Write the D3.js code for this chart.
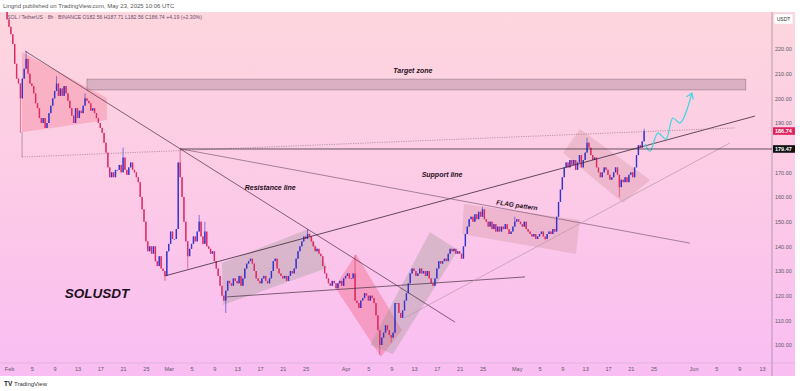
<!DOCTYPE html>
<html>
<head>
<meta charset="utf-8">
<script src="https://cdn.jsdelivr.net/npm/d3@7"></script>
<style>
  body { margin: 0; background: #fff; }
  svg { display: block; font-family: "Liberation Sans", Arial, sans-serif; }
</style>
</head>
<body>
<script>
var W = 800, H = 391;
var plot = {left: 0, right: 772, top: 12, bottom: 363};

// SOL/USDT 8h candles, first candle opens Jan 31 16:00 UTC
var firstCandle = "2025-01-31T16:00Z";
var firstOpen = 238;
var closes = [
  232,
  229,226,222, 214,208,206, 200,208,212, 216,210,206, 205,202,198, 196,192,190, 192,188,190,
  194,197,200, 203,206,201, 204,201,205, 202,199,196, 193,190,196, 192,195,194, 197,200,199,
  198,195,196, 194,192,190, 188,186,182, 178,172,168, 170,168,171, 171,173,170, 176,171,169,
  172,174,171, 170,168,166, 160,155,150, 142,138,140, 137,140,134, 132,136,131, 130,128,138,
  141,146,143, 143,147,174, 168,160,150, 142,136,139, 141,144,142, 146,150,144, 141,146,140,
  139,137,138, 134,131,128, 124,120,118, 122,126,125, 124,127,126, 125,128,124, 127,131,133,
  134,135,133, 130,127,126, 125,127,128, 126,125,127, 130,134,135, 131,129,128, 127,128,126,
  128,130,129, 131,135,138, 140,142,144, 143,145,144, 142,140,138, 139,137,136, 132,129,127,
  125,124,126, 125,123,125, 126,124,127, 128,129,127, 127,129,118, 117,115,118, 119,121,120,
  118,120,119, 117,112,106, 100,103,105, 108,106,104, 103,105,117, 117,113,111, 114,118,121,
  125,129,131, 130,128,129, 131,129,130, 128,130,127, 125,124,127, 131,134,133, 134,135,134,
  137,139,138, 139,137,138, 137,135,140, 145,148,151, 152,150,153, 151,154,152, 155,151,150,
  148,150,147, 149,146,148, 146,148,147, 149,147,145, 146,148,150, 151,150,149, 148,150,147,
  146,145,144, 145,143,144, 145,146,144, 143,145,146, 145,147,146, 152,158,163, 168,172,174,
  172,175,173, 175,171,174, 177,172,175, 178,182,180, 177,175,176, 172,170,168, 170,172,171,
  169,167,168, 170,172,169, 164,167,166, 168,166,169, 170,168,172, 177,181,180, 182.56,186.74
];
// visible wick tips
var wickHighs = [
  ["2025-02-04T00:00Z", 219], ["2025-02-09T08:00Z", 209], ["2025-02-14T08:00Z", 202],
  ["2025-02-21T00:00Z", 180], ["2025-03-03T00:00Z", 180], ["2025-03-06T08:00Z", 152.7],
  ["2025-03-07T08:00Z", 150], ["2025-03-25T08:00Z", 147], ["2025-04-02T16:00Z", 136.5],
  ["2025-04-25T00:00Z", 156], ["2025-04-30T16:00Z", 152], ["2025-05-13T08:00Z", 184],
  ["2025-05-23T08:00Z", 187.71]
];
var wickLows = [
  ["2025-02-03T00:00Z", 186], ["2025-02-28T08:00Z", 126], ["2025-03-04T08:00Z", 131],
  ["2025-03-11T00:00Z", 113], ["2025-04-07T00:00Z", 96], ["2025-04-09T00:00Z", 101],
  ["2025-05-06T00:00Z", 142.5], ["2025-05-19T00:00Z", 160]
];

var timeTicks = ["2025-02-01","2025-02-05","2025-02-09","2025-02-13","2025-02-17","2025-02-21","2025-02-25",
  "2025-03-01","2025-03-05","2025-03-09","2025-03-13","2025-03-17","2025-03-21","2025-03-25",
  "2025-04-01","2025-04-05","2025-04-09","2025-04-13","2025-04-17","2025-04-21","2025-04-25",
  "2025-05-01","2025-05-05","2025-05-09","2025-05-13","2025-05-17","2025-05-21","2025-05-25",
  "2025-06-01","2025-06-05","2025-06-09","2025-06-13"];
var monthNames = ["Jan","Feb","Mar","Apr","May","Jun"];
var priceTicks = [100, 110, 120, 130, 140, 150, 160, 170, 180, 190, 200, 210, 220];
var lastPrice = 186.74, levelPrice = 179.47;

// drawings: [time, price]
var resistanceLine = [["2025-02-03T19:00Z", 219.2], ["2025-04-20T04:00Z", 109.3]];
var supportLine = [["2025-02-28T08:00Z", 128.0], ["2025-06-11T18:00Z", 192.8]];
var fallingLine = [["2025-03-03T04:00Z", 179.47], ["2025-05-31T09:00Z", 141.3]];
var baseLine = [["2025-03-11T05:00Z", 119.5], ["2025-05-02T11:00Z", 127.6]];
var lowerTrend = [["2025-04-11T06:00Z", 110.9], ["2025-06-07T09:00Z", 181.9]];
var dottedLine = [["2025-02-03T07:00Z", 176.2], ["2025-06-08T06:00Z", 188.0]];
var dottedTick = [["2025-02-03T07:00Z", 186.3], ["2025-02-03T07:00Z", 176.2]];
var levelStart = "2025-03-03T00:00Z";

var febWedge = [["2025-02-03T07:00Z", 218.8], ["2025-02-18T04:00Z", 200.1], ["2025-02-18T04:00Z", 191.2], ["2025-02-03T07:00Z", 186.3]];
var marChannel = [["2025-03-10T08:00Z", 133.2], ["2025-03-25T10:00Z", 147.0], ["2025-03-28T18:00Z", 131.2], ["2025-03-10T12:00Z", 116.2]];
var aprDrop = [["2025-03-30T03:00Z", 123.5], ["2025-04-02T20:00Z", 136.9], ["2025-04-10T21:00Z", 106.1], ["2025-04-07T05:00Z", 95.1]];
var aprChannel = [["2025-04-05T07:00Z", 100.0], ["2025-04-15T19:00Z", 145.8], ["2025-04-20T17:00Z", 138.5], ["2025-04-09T07:00Z", 96.4]];
var flagBox = [["2025-04-21T18:00Z", 157.2], ["2025-05-12T02:00Z", 150.7], ["2025-05-11T09:00Z", 136.9], ["2025-04-21T10:00Z", 145.0]];
var mayBox = [["2025-05-12T02:00Z", 187.6], ["2025-05-24T09:00Z", 166.9], ["2025-05-19T15:00Z", 157.6], ["2025-05-09T03:00Z", 177.8]];
var targetZone = {from: "2025-02-14T16:00Z", to: "2025-06-10T04:00Z", low: 203.4, high: 207.8};
var projection = [["2025-05-23T12:00Z", 181.5], ["2025-05-24T09:00Z", 178.6], ["2025-05-25T18:00Z", 185.9],
  ["2025-05-27T04:00Z", 183.5], ["2025-05-28T09:00Z", 192.0], ["2025-05-29T15:00Z", 190.0], ["2025-05-31T17:00Z", 202.1]];

var labels = [
  {text: "Target zone", t: "2025-04-12T19:00Z", p: 211.1, size: 7, rot: 0},
  {text: "Resistance line", t: "2025-03-18T19:00Z", p: 164.0, size: 7, rot: 0},
  {text: "Support line", t: "2025-04-17T22:00Z", p: 169.3, size: 7, rot: 0},
  {text: "FLAG pattern", t: "2025-05-01T01:00Z", p: 156.7, size: 6.5, rot: 8},
  {text: "SOLUSDT", t: "2025-02-16T10:00Z", p: 121.0, size: 13.5, rot: 0}
];

var x = d3.scaleUtc()
    .domain([new Date("2025-02-01T00:00Z"), new Date("2025-06-13T00:00Z")])
    .range([9, 762]);
var y = d3.scaleLinear().domain([100, 220]).range([345, 49]);

var svg = d3.select("body").append("svg")
    .attr("width", W)
    .attr("height", H);

var defs = svg.append("defs");
var grad = defs.append("linearGradient").attr("id", "bg")
    .attr("x1", 0).attr("y1", 0).attr("x2", 0).attr("y2", 1);
grad.append("stop").attr("offset", "0%").attr("stop-color", "#fdd6de");
grad.append("stop").attr("offset", "55%").attr("stop-color", "#fcc9e8");
grad.append("stop").attr("offset", "100%").attr("stop-color", "#f9bdf3");
defs.append("clipPath").attr("id", "clip").append("rect")
    .attr("x", plot.left).attr("y", plot.top)
    .attr("width", plot.right - plot.left).attr("height", plot.bottom - plot.top);

// background panel
svg.append("rect")
    .attr("x", 0).attr("y", 12).attr("width", 795).attr("height", 364)
    .attr("fill", "url(#bg)");

// header
svg.append("text").attr("x", 3).attr("y", 8)
    .attr("font-size", 6).attr("fill", "#555")
    .text("Lingrid published on TradingView.com, May 23, 2025 10:06 UTC");
svg.append("text").attr("x", 7).attr("y", 19)
    .attr("font-size", 5.2).attr("fill", "#6b4a6a")
    .text("SOL / TetherUS · 8h · BINANCE   O182.56  H187.71  L182.56  C186.74  +4.19 (+2.30%)");

var g = svg.append("g").attr("clip-path", "url(#clip)");

function pt(d) { return [x(new Date(d[0])), y(d[1])]; }
var line = d3.line().x(function(d) { return pt(d)[0]; }).y(function(d) { return pt(d)[1]; });

// shaded patterns
var shapes = [
  {pts: febWedge, fill: "rgba(242,110,135,0.32)"},
  {pts: marChannel, fill: "rgba(150,150,140,0.33)"},
  {pts: aprDrop, fill: "rgba(240,80,110,0.33)"},
  {pts: aprChannel, fill: "rgba(150,150,140,0.33)"},
  {pts: flagBox, fill: "rgba(205,140,150,0.3)"},
  {pts: mayBox, fill: "rgba(205,140,150,0.3)"}
];
g.selectAll(".shape")
  .data(shapes)
  .enter().append("path")
    .attr("class", "shape")
    .attr("d", function(d) { return line(d.pts) + "Z"; })
    .style("fill", function(d) { return d.fill; });

// target zone
g.append("rect")
    .attr("x", x(new Date(targetZone.from)))
    .attr("y", y(targetZone.high))
    .attr("width", x(new Date(targetZone.to)) - x(new Date(targetZone.from)))
    .attr("height", y(targetZone.low) - y(targetZone.high))
    .style("fill", "rgba(175,135,155,0.45)")
    .style("stroke", "rgba(120,95,110,0.7)")
    .style("stroke-width", 0.6);

// candles
var t0 = new Date(firstCandle).getTime();
var hiMap = {}, loMap = {};
wickHighs.forEach(function(d) { hiMap[new Date(d[0]).getTime()] = d[1]; });
wickLows.forEach(function(d) { loMap[new Date(d[0]).getTime()] = d[1]; });
var candles = closes.map(function(c, i) {
  var t = t0 + i * 8 * 3600 * 1000;
  var o = i === 0 ? firstOpen : closes[i - 1];
  var h = Math.max(o, c), l = Math.min(o, c);
  if (hiMap[t] !== undefined) h = Math.max(h, hiMap[t]);
  if (loMap[t] !== undefined) l = Math.min(l, loMap[t]);
  return {t: new Date(t), o: o, h: h, l: l, c: c};
});
var upCol = "#3434cc", downCol = "#dc2a62";
var candle = g.selectAll(".candle")
  .data(candles)
  .enter().append("g")
    .attr("class", "candle");
candle.append("line")
    .attr("x1", function(d) { return x(d.t); })
    .attr("x2", function(d) { return x(d.t); })
    .attr("y1", function(d) { return y(d.h); })
    .attr("y2", function(d) { return y(d.l); })
    .style("stroke", function(d) { return d.c >= d.o ? upCol : downCol; })
    .style("stroke-width", 0.6);
candle.append("rect")
    .attr("x", function(d) { return x(d.t) - 0.7; })
    .attr("y", function(d) { return y(Math.max(d.o, d.c)); })
    .attr("width", 1.4)
    .attr("height", function(d) { return Math.max(0.7, Math.abs(y(d.o) - y(d.c))); })
    .style("fill", function(d) { return d.c >= d.o ? upCol : downCol; });

// trend lines
var trendLines = [
  {pts: resistanceLine, stroke: "#4a2e42", w: 0.7, dash: null},
  {pts: supportLine, stroke: "#3e2638", w: 0.8, dash: null},
  {pts: fallingLine, stroke: "#6b4c62", w: 0.6, dash: null},
  {pts: baseLine, stroke: "#4a2e42", w: 0.7, dash: null},
  {pts: lowerTrend, stroke: "#b898aa", w: 0.7, dash: null},
  {pts: dottedLine, stroke: "#8c6c80", w: 0.6, dash: "1.2,1.2"},
  {pts: dottedTick, stroke: "#8c6c80", w: 0.6, dash: null}
];
g.selectAll(".trend")
  .data(trendLines)
  .enter().append("path")
    .attr("class", "trend")
    .attr("d", function(d) { return line(d.pts); })
    .style("fill", "none")
    .style("stroke", function(d) { return d.stroke; })
    .style("stroke-width", function(d) { return d.w; })
    .style("stroke-dasharray", function(d) { return d.dash; });

// horizontal level
svg.append("line")
    .attr("x1", x(new Date(levelStart))).attr("x2", plot.right)
    .attr("y1", y(levelPrice)).attr("y2", y(levelPrice))
    .style("stroke", "#2a1a26").style("stroke-width", 0.7);

// projected path
var proj = d3.line()
    .x(function(d) { return pt(d)[0]; })
    .y(function(d) { return pt(d)[1]; })
    .curve(d3.curveCatmullRom.alpha(0.5));
g.append("path")
    .attr("d", proj(projection))
    .style("fill", "none").style("stroke", "#3fd6e2").style("stroke-width", 1.2);
var tip = pt(projection[projection.length - 1]);
var prev = pt(projection[projection.length - 2]);
var ang = Math.atan2(tip[1] - prev[1], tip[0] - prev[0]);
[-0.6, 0.6].forEach(function(a) {
  g.append("line")
      .attr("x1", tip[0]).attr("y1", tip[1])
      .attr("x2", tip[0] - 6 * Math.cos(ang + a))
      .attr("y2", tip[1] - 6 * Math.sin(ang + a))
      .style("stroke", "#3fd6e2").style("stroke-width", 1.2)
      .style("stroke-linecap", "round");
});

// chart labels
g.selectAll(".lbl")
  .data(labels)
  .enter().append("text")
    .attr("class", "lbl")
    .attr("transform", function(d) {
      return "translate(" + x(new Date(d.t)) + "," + y(d.p) + ") rotate(" + d.rot + ")";
    })
    .attr("text-anchor", "middle")
    .attr("dy", "0.35em")
    .attr("font-size", function(d) { return d.size; })
    .attr("font-weight", "bold")
    .attr("font-style", "italic")
    .attr("fill", "#1e1020")
    .text(function(d) { return d.text; });

// axes frame
svg.append("line").attr("x1", plot.right).attr("x2", plot.right)
    .attr("y1", 12).attr("y2", 376)
    .style("stroke", "#8c7a88").style("stroke-width", 0.6);
svg.append("line").attr("x1", 0).attr("x2", 795)
    .attr("y1", plot.bottom).attr("y2", plot.bottom)
    .style("stroke", "#c9a8c4").style("stroke-width", 0.5);

// time axis
var xAxis = d3.axisBottom(x)
    .tickValues(timeTicks.map(function(d) { return new Date(d + "T00:00Z"); }))
    .tickSize(0).tickPadding(4)
    .tickFormat(function(d) {
      return d.getUTCDate() === 1 ? monthNames[d.getUTCMonth()] : d.getUTCDate();
    });
svg.append("g")
    .attr("transform", "translate(0," + plot.bottom + ")")
    .call(xAxis)
    .call(function(s) { s.select(".domain").remove(); })
    .selectAll("text")
    .attr("font-size", 5.5).attr("fill", "#5a5a66")
    .attr("font-family", "Liberation Sans, Arial, sans-serif");

// price axis
var yAxis = d3.axisRight(y)
    .tickValues(priceTicks)
    .tickSize(0).tickPadding(0)
    .tickFormat(d3.format(".2f"));
svg.append("g")
    .attr("transform", "translate(775,0)")
    .call(yAxis)
    .call(function(s) { s.select(".domain").remove(); })
    .selectAll("text")
    .attr("font-size", 5.5).attr("fill", "#5a5a66")
    .attr("font-family", "Liberation Sans, Arial, sans-serif");

// price labels
[{p: lastPrice, bg: "#e0245e"}, {p: levelPrice, bg: "#111"}].forEach(function(d) {
  svg.append("rect")
      .attr("x", 773).attr("y", y(d.p) - 3.8)
      .attr("width", 22).attr("height", 7.6)
      .attr("fill", d.bg);
  svg.append("text")
      .attr("x", 775).attr("y", y(d.p)).attr("dy", "0.35em")
      .attr("font-size", 5.5).attr("font-weight", "bold").attr("fill", "#fff")
      .text(d3.format(".2f")(d.p));
});

// currency badge
svg.append("rect").attr("x", 774).attr("y", 14).attr("width", 19).attr("height", 10)
    .attr("rx", 1.5).attr("fill", "#fff").attr("stroke", "#e6d6e0").attr("stroke-width", 0.5);
svg.append("text").attr("x", 783.5).attr("y", 19).attr("dy", "0.35em")
    .attr("text-anchor", "middle").attr("font-size", 5).attr("fill", "#333")
    .text("USDT");

// footer logo
svg.append("text").attr("x", 4).attr("y", 386)
    .attr("font-size", 6.5).attr("font-weight", "bold").attr("fill", "#222")
    .text("TV");
svg.append("text").attr("x", 14).attr("y", 386)
    .attr("font-size", 6).attr("fill", "#333")
    .text("TradingView");
</script>
</body>
</html>
